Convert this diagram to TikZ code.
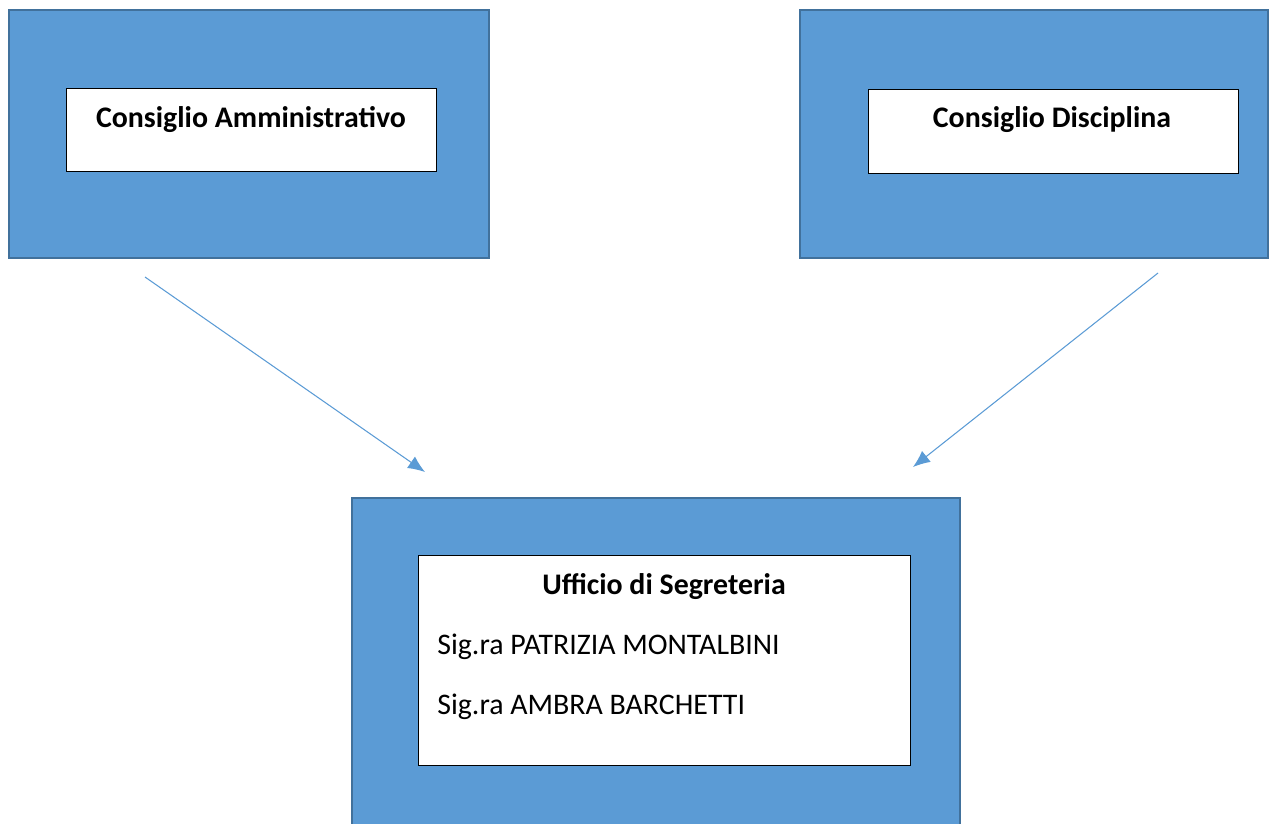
\documentclass[tikz,border=0pt]{standalone}
\usepackage{fontspec}
\setmainfont{Carlito}
\usetikzlibrary{arrows.meta}
\definecolor{boxblue}{HTML}{5B9BD5}
\definecolor{boxedge}{HTML}{41719C}
\tikzset{
  outerbox/.style={draw=boxedge,fill=boxblue,line width=1.3pt},
  innerbox/.style={draw=black,fill=white,line width=0.5pt},
  label/.style={font=\fontsize{17}{20}\selectfont,inner sep=0pt},
  title/.style={label,font=\fontsize{17}{20}\selectfont\bfseries},
  link/.style={draw=boxblue,line width=0.6pt,-{Latex[length=3.4mm,width=2.8mm]}}
}
\begin{document}
\begin{tikzpicture}[x=0.02cm,y=-0.02cm]
\useasboundingbox (0,0) rectangle (1270,823);
% boxes
\draw[outerbox] (9,10) rectangle (489,258);
\draw[innerbox] (66,88) rectangle (436,171);
\draw[outerbox] (800,10) rectangle (1268,258);
\draw[innerbox] (868,89) rectangle (1238,173);
\draw[outerbox] (352,498) rectangle (960,826);
\draw[innerbox] (418,555) rectangle (910,765);

\node[title] (adm) at (251,120) {Consiglio Amministrativo};
\node[title] (disc) at (1052,120) {Consiglio Disciplina};
\node[title] (segr) at (664,587) {Ufficio di Segreteria};
\node[label,anchor=west] (pm) at (437,647) {Sig.ra PATRIZIA MONTALBINI};
\node[label,anchor=west] (ab) at (437,707) {Sig.ra AMBRA BARCHETTI};

% arrows
\coordinate (a1) at (145,277);
\coordinate (a2) at (425,472);
\coordinate (d1) at (1158,273);
\coordinate (d2) at (913,467);
\draw[link] (a1) -- (a2);
\draw[link] (d1) -- (d2);
\end{tikzpicture}
\end{document}
